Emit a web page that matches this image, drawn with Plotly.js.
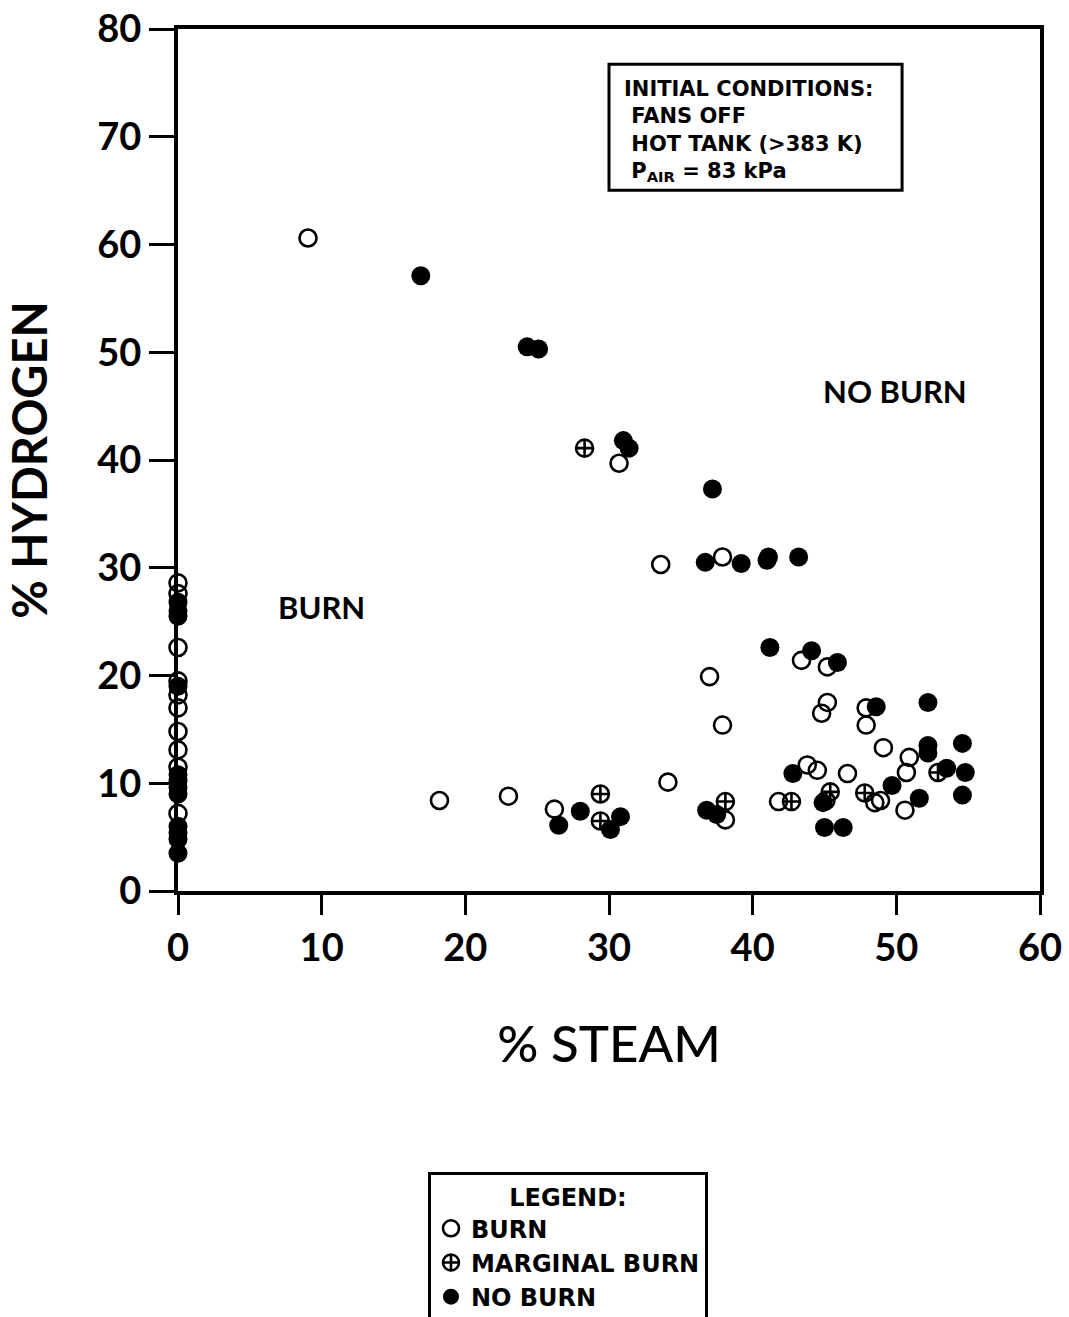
<!DOCTYPE html>
<html>
<head>
<meta charset="utf-8">
<script src="https://cdn.plot.ly/plotly-3.0.1.min.js"></script>
<style>html,body{margin:0;padding:0;background:#fff;}#chart{width:1069px;height:1317px;}</style>
</head>
<body>
<div id="chart"></div>
<script>
// % STEAM / % HYDROGEN data
const burnX = [0,0,0,0,0,0,0,0,0,0,
  9.05,30.7,33.6,37.9,37.0,37.9,18.2,23.0,26.2,34.1,43.4,45.2,45.2,44.8,47.9,47.9,49.1,50.9,50.7,50.6,48.9,48.5,46.6,43.8,44.5,41.8,38.1];
const burnY = [28.6,27.6,22.6,19.5,18.2,17.0,14.8,13.1,11.5,7.2,
  60.6,39.7,30.3,31.0,19.9,15.4,8.4,8.8,7.6,10.1,21.4,20.8,17.5,16.5,17.0,15.4,13.3,12.4,11.0,7.5,8.4,8.2,10.9,11.7,11.2,8.3,6.6];

const marginalX = [28.3,29.4,29.4,38.1,42.7,45.4,45.1,47.8,52.9];
const marginalY = [41.1,9.0,6.5,8.3,8.3,9.2,8.4,9.1,11.0];

const noBurnX = [0,0,0,0,0,0,0,0,0,0,0,0,
  16.9,24.3,25.1,31.0,31.4,37.2,36.7,39.2,41.1,41.0,43.2,41.2,44.1,45.9,48.6,52.2,52.2,52.2,54.6,54.8,53.5,54.6,51.6,49.7,42.8,44.9,45.0,46.3,36.8,37.5,28.0,26.5,30.8,30.1];
const noBurnY = [26.8,26.0,25.5,19.0,10.8,10.2,9.6,9.0,6.0,5.4,4.8,3.5,
  57.1,50.5,50.3,41.8,41.1,37.3,30.5,30.4,31.0,30.7,31.0,22.6,22.3,21.2,17.1,17.5,13.5,12.8,13.7,11.0,11.4,8.9,8.6,9.8,10.9,8.2,5.9,5.9,7.5,7.1,7.4,6.1,6.9,5.7];

const xTicks = [0,10,20,30,40,50,60];
const yTicks = [0,10,20,30,40,50,60,70,80];

const FONT = 'Lato, "Open Sans", sans-serif';
const WIDE = '"DejaVu Sans", sans-serif';

const traces = [
  {x: burnX, y: burnY, type: 'scatter', mode: 'markers', name: 'BURN', cliponaxis: false,
   marker: {symbol: 'circle-open', size: 17, color: '#000', line: {width: 2.6, color: '#000'}}},
  {x: marginalX, y: marginalY, type: 'scatter', mode: 'markers', name: 'MARGINAL BURN', cliponaxis: false,
   marker: {symbol: 'circle-cross-open', size: 17, color: '#000', line: {width: 2.6, color: '#000'}}},
  {x: noBurnX, y: noBurnY, type: 'scatter', mode: 'markers', name: 'NO BURN', cliponaxis: false,
   marker: {symbol: 'circle', size: 19, color: '#000', line: {width: 0}}}
];

const layout = {
  width: 1069, height: 1317,
  margin: {l: 178, r: 29, t: 29, b: 426, autoexpand: false},
  paper_bgcolor: '#fff', plot_bgcolor: '#fff',
  font: {family: FONT, color: '#000', weight: 700},
  showlegend: true,
  legend: {
    x: 0.29, y: -0.326, xanchor: 'left', yanchor: 'top',
    bordercolor: '#000', borderwidth: 3, bgcolor: '#fff',
    font: {family: WIDE, size: 24, color: '#000', weight: 700},
    title: {text: 'LEGEND:', side: 'top center', font: {family: WIDE, size: 24, weight: 700}},
    itemsizing: 'trace', tracegroupgap: 0, itemwidth: 30
  },
  xaxis: {
    range: [0, 60], tickvals: xTicks, ticktext: xTicks.map(String),
    showgrid: false, zeroline: false,
    showline: true, linewidth: 4, linecolor: '#000', mirror: true,
    ticks: 'outside', ticklen: 20, tickwidth: 3, tickcolor: '#000',
    tickfont: {family: FONT, size: 38, weight: 700},
    title: {text: '% STEAM', font: {family: FONT, size: 51, weight: 500}, standoff: 60}
  },
  yaxis: {
    range: [0, 80], tickvals: yTicks, ticktext: yTicks.map(String),
    showgrid: false, zeroline: false,
    showline: true, linewidth: 4, linecolor: '#000', mirror: true,
    ticks: 'outside', ticklen: 25, tickwidth: 3, tickcolor: '#000',
    tickfont: {family: FONT, size: 38, weight: 700},
    title: {text: '% HYDROGEN', font: {family: FONT, size: 47, weight: 700}, standoff: 36}
  },
  shapes: [
    {type: 'rect', xref: 'paper', yref: 'paper', x0: 0.5, x1: 0.84, y0: 0.813, y1: 0.959,
     line: {color: '#000', width: 3}, fillcolor: 'rgba(0,0,0,0)'}
  ],
  annotations: [
    {xref: 'paper', yref: 'paper', x: 0.515, y: 0.947, xanchor: 'left', yanchor: 'top', align: 'left',
     showarrow: false, font: {family: WIDE, size: 21, weight: 700},
     text: 'INITIAL CONDITIONS:<br> FANS OFF<br> HOT TANK (>383 K)<br> P<sub>AIR</sub> = 83 kPa'},
    {xref: 'x', yref: 'y', x: 10, y: 26.4, showarrow: false, font: {family: FONT, size: 31, weight: 700}, text: 'BURN'},
    {xref: 'x', yref: 'y', x: 49.9, y: 46.4, showarrow: false, font: {family: FONT, size: 31, weight: 700}, text: 'NO BURN'}
  ]
};

Plotly.newPlot('chart', traces, layout, {displayModeBar: false, staticPlot: true});
</script>
</body>
</html>
